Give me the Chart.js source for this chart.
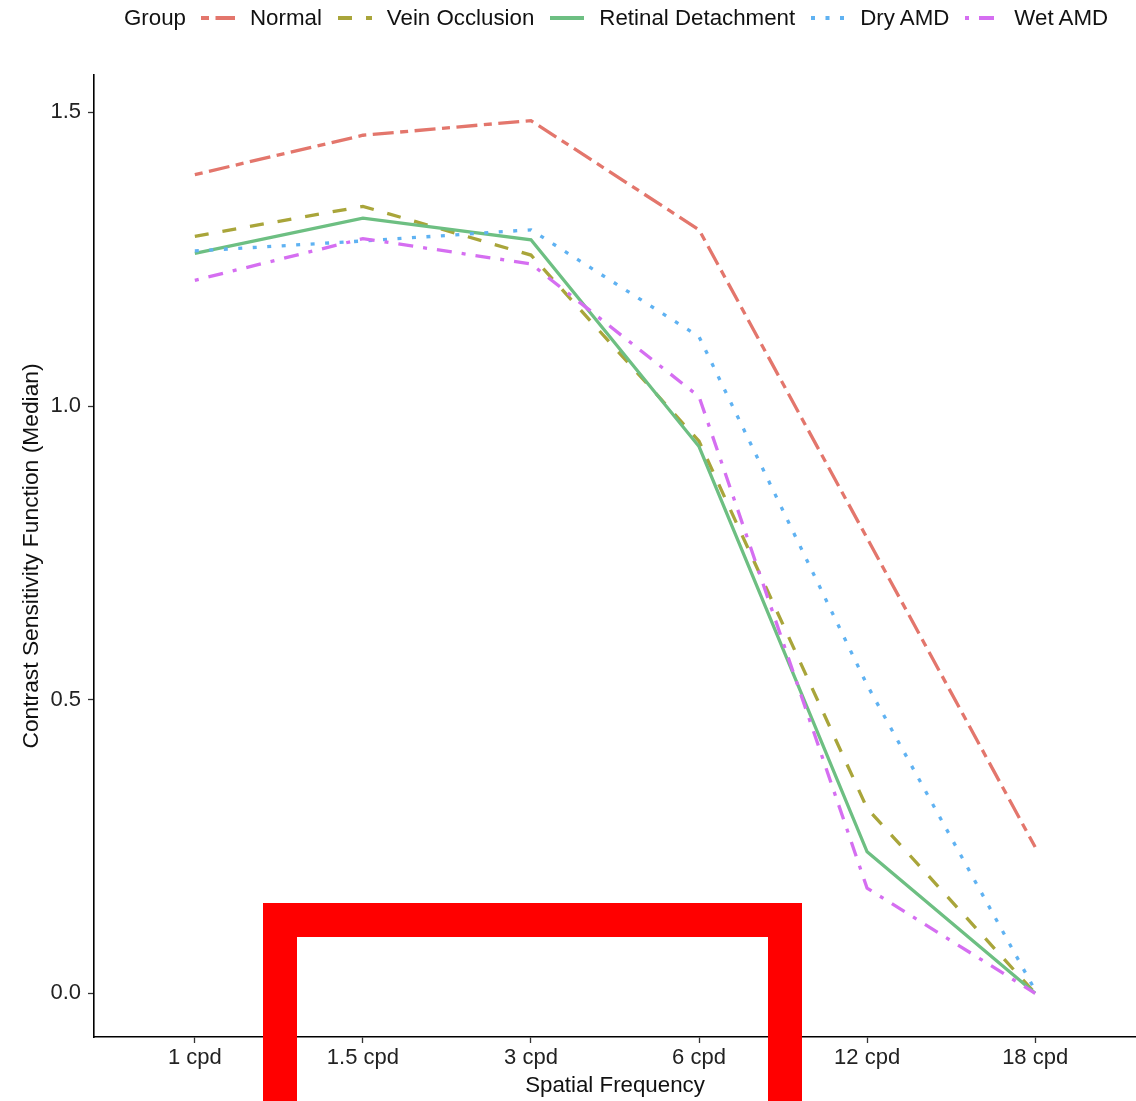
<!DOCTYPE html>
<html>
<head>
<meta charset="utf-8">
<script src="https://cdn.jsdelivr.net/npm/chart.js@4/dist/chart.umd.min.js"></script>
<style>
  html, body { margin: 0; padding: 0; background: #fff; overflow: hidden; }
  #wrap { position: relative; width: 1136px; height: 1101px; }
  #legend {
    position: absolute; left: 124px; top: 4px; height: 28px;
    display: flex; align-items: center; white-space: nowrap;
    font-family: "Liberation Sans", Arial, sans-serif; font-size: 22.3px; color: #111;
  }
  #legend .title { margin-right: 15px; }
  #legend svg { margin-right: 15px; }
  #legend .lbl { margin-right: 16px; }
  #bracket {
    position: absolute; left: 263px; top: 903px; width: 539px; height: 260px;
    box-sizing: border-box; border: 34px solid #ff0000; border-bottom: none;
    pointer-events: none;
  }
</style>
</head>
<body>
<div id="wrap">
  <canvas id="chart" width="1136" height="1101"></canvas>
  <div id="legend"><span class="title">Group</span></div>
  <div id="bracket"></div>
</div>
<script>
;(() => {
  'use strict';

  const frequencies = ['1 cpd', '1.5 cpd', '3 cpd', '6 cpd', '12 cpd', '18 cpd'];
  const yTicks = [0, 0.5, 1.0, 1.5];

  const groups = ['Normal', 'Vein Occlusion', 'Retinal Detachment', 'Dry AMD', 'Wet AMD'];
  const normal = [1.394, 1.461, 1.486, 1.300, 0.775, 0.249];
  const veinOcclusion = [1.289, 1.340, 1.257, 0.940, 0.315, 0.0];
  const retinalDetachment = [1.260, 1.320, 1.283, 0.931, 0.241, 0.0];
  const dryAMD = [1.264, 1.281, 1.300, 1.118, 0.525, 0.005];
  const wetAMD = [1.214, 1.285, 1.242, 1.016, 0.179, 0.0];

  const values = [normal, veinOcclusion, retinalDetachment, dryAMD, wetAMD];
  const colors = ['#e3766c', '#a9a53a', '#6dbf82', '#5fb2f2', '#d56ef1'];
  const dashes = [[8, 6.5, 21, 6.5], [14, 14], [], [4, 10.5], [4, 10, 15, 10]];

  const font = 'Liberation Sans, Arial, sans-serif';

  const datasets = groups.map((name, i) => ({
    label: name,
    data: values[i].map((v, j) => ({ x: j, y: v })),
    borderColor: colors[i],
    borderWidth: 3.3,
    borderDash: dashes[i],
    borderCapStyle: 'butt',
    pointRadius: 0,
    tension: 0,
    fill: false,
    order: groups.length - i
  }));

  new Chart(document.getElementById('chart').getContext('2d'), {
    type: 'line',
    data: { datasets },
    options: {
      responsive: false,
      devicePixelRatio: 1,
      animation: false,
      layout: { padding: { top: 75, right: 0, left: 0, bottom: 0 } },
      plugins: { legend: { display: false }, tooltip: { enabled: false } },
      scales: {
        x: {
          type: 'linear',
          min: -0.6,
          max: 5.6,
          afterBuildTicks: s => { s.ticks = frequencies.map((f, i) => ({ value: i })); },
          afterFit: s => { s.height = 64; },
          grid: { drawOnChartArea: false, color: '#333', tickLength: 6, tickWidth: 1.3 },
          border: { color: '#000', width: 1.6 },
          ticks: {
            color: '#222', font: { family: font, size: 22 }, padding: 2,
            maxRotation: 0, autoSkip: false,
            callback: v => frequencies[v]
          },
          title: {
            display: true, text: 'Spatial Frequency', color: '#111',
            font: { family: font, size: 22.3 }, padding: { top: 0, bottom: 1.5 }
          }
        },
        y: {
          min: -0.0744,
          max: 1.5636,
          afterBuildTicks: s => { s.ticks = yTicks.map(v => ({ value: v })); },
          afterFit: s => { s.width = 94; },
          grid: { drawOnChartArea: false, color: '#333', tickLength: 6, tickWidth: 1.3 },
          border: { color: '#000', width: 1.6 },
          ticks: {
            color: '#222', font: { family: font, size: 22 }, padding: 7,
            callback: v => v.toFixed(1)
          },
          title: {
            display: true, text: 'Contrast Sensitivity Function (Median)', color: '#111',
            font: { family: font, size: 22.8 }, padding: { top: 18, bottom: 0 }
          }
        }
      }
    }
  });

  // legend keys
  const legend = document.getElementById('legend');
  groups.forEach((name, i) => {
    const svg = document.createElementNS('http://www.w3.org/2000/svg', 'svg');
    svg.setAttribute('width', '34');
    svg.setAttribute('height', '10');
    const line = document.createElementNS('http://www.w3.org/2000/svg', 'line');
    line.setAttribute('x1', '0');
    line.setAttribute('x2', '34');
    line.setAttribute('y1', '5');
    line.setAttribute('y2', '5');
    line.setAttribute('stroke', colors[i]);
    line.setAttribute('stroke-width', '4');
    if (dashes[i].length) line.setAttribute('stroke-dasharray', dashes[i].join(' '));
    svg.appendChild(line);
    legend.appendChild(svg);

    const lbl = document.createElement('span');
    lbl.className = 'lbl';
    lbl.textContent = name;
    legend.appendChild(lbl);
  });
})();
</script>
</body>
</html>
